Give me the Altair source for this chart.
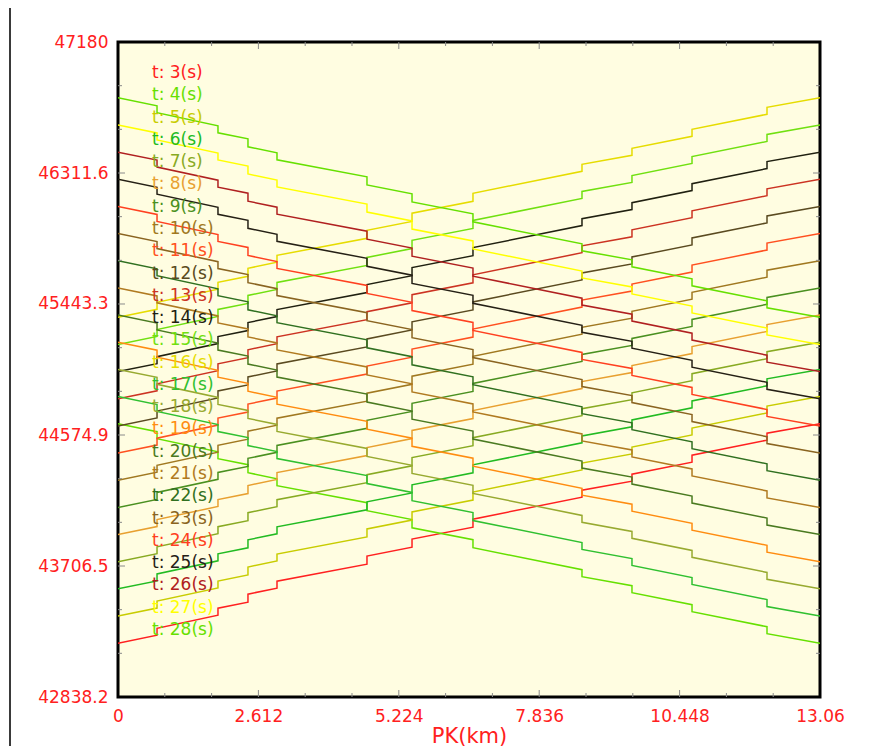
import altair as alt
import pandas as pd

# ---- data ----
series_names = ["t: 3(s)", "t: 4(s)", "t: 5(s)", "t: 6(s)", "t: 7(s)", "t: 8(s)", "t: 9(s)",
                "t: 10(s)", "t: 11(s)", "t: 12(s)", "t: 13(s)", "t: 14(s)", "t: 15(s)",
                "t: 16(s)", "t: 17(s)", "t: 18(s)", "t: 19(s)", "t: 20(s)", "t: 21(s)",
                "t: 22(s)", "t: 23(s)", "t: 24(s)", "t: 25(s)", "t: 26(s)", "t: 27(s)", "t: 28(s)"]
series_colors = ["#FF2020", "#66E000", "#C8CC00", "#22BB22", "#88AA22", "#E8A030", "#4A9020",
                 "#A07820", "#FF5020", "#5A4A20", "#CC3322", "#202010", "#70E010",
                 "#E6DC00", "#30C030", "#98AA30", "#FF8C10", "#4A7A20", "#B07A20",
                 "#307020", "#8A6420", "#FF4020", "#252015", "#B02020", "#FFFF00", "#66E000"]
# direction of each profile along the pipe: +1 rising, -1 falling
series_dir = [1, -1, 1, 1, 1, 1, 1, 1, 1, 1, 1, 1, 1,
              1, -1, -1, -1, -1, -1, -1, -1, -1, -1, -1, -1, -1]
# value at PK = 0
series_start = [43195, 44650, 43375, 43555, 43735, 43915, 44095, 44275, 44455, 44635, 44815, 44995, 45175,
                45355, 44830, 45010, 45190, 45370, 45550, 45730, 45910, 46090, 46270, 46450, 46630, 46810]

# stepped profile shape (change from the PK=0 value)
profile_pk = [0, 0.726, 0.726, 1.860, 1.860, 2.418, 2.418, 2.958, 2.958, 4.632, 4.632, 5.470,
              5.470, 6.604, 6.604, 8.632, 8.632, 9.562, 9.562, 10.679, 10.679, 12.074, 12.074, 13.06]
profile_change = [0, 53, 99, 186, 232, 272, 325, 365, 411, 524, 577, 636,
                  690, 769, 822, 968, 1014, 1074, 1120, 1200, 1246, 1346, 1392, 1455]

x_ticks = [0, 2.612, 5.224, 7.836, 10.448, 13.06]
y_ticks = [42838.2, 43706.5, 44574.9, 45443.3, 46311.6, 47180]
x_minor = [0.8707, 1.7413, 3.4827, 4.3533, 6.0947, 6.9653, 8.7067, 9.5773, 11.3187, 12.1893]
y_minor = [43127.7, 43417.1, 43996.0, 44285.4, 44864.4, 45153.8, 45732.7, 46022.2, 46601.1, 46890.5]
x_major_inner = [2.612, 5.224, 7.836, 10.448]
y_major_inner = [43706.5, 44574.9, 45443.3, 46311.6]

X_DOMAIN = [0, 13.06]
Y_DOMAIN = [42838.2, 47180]
W, H = 702, 655
RED = "#FF2020"
FONT = "DejaVu Sans"

rows = []
for name, d, s in zip(series_names, series_dir, series_start):
    for i, (pk, ch) in enumerate(zip(profile_pk, profile_change)):
        rows.append({"series": name, "pk": pk, "v": s + d * ch, "idx": i})
df = pd.DataFrame(rows)

color_scale = alt.Scale(domain=series_names, range=series_colors)
xs = alt.Scale(domain=X_DOMAIN, nice=False, zero=False)
ys = alt.Scale(domain=Y_DOMAIN, nice=False, zero=False)

lines = alt.Chart(df).mark_line(strokeWidth=1.5, clip=True).encode(
    x=alt.X("pk:Q", scale=xs, axis=alt.Axis(
        values=x_ticks, format=".10~g", title="PK(km)", ticks=False, domain=False, grid=False,
        labelColor=RED, labelFont=FONT, labelFontSize=17, labelPadding=11, labelFlush=False,
        labelOverlap=False, titleColor=RED, titleFont=FONT, titleFontSize=21,
        titleFontWeight="normal", titlePadding=1)),
    y=alt.Y("v:Q", scale=ys, axis=alt.Axis(
        values=y_ticks, format=".10~g", title=None, ticks=False, domain=False, grid=False,
        labelColor=RED, labelFont=FONT, labelFontSize=17, labelPadding=10, labelFlush=False,
        labelOverlap=False)),
    color=alt.Color("series:N", scale=color_scale, legend=None),
    detail="series:N",
    order="idx:Q",
)

leg_df = pd.DataFrame({"series": series_names, "pos": list(range(len(series_names)))})
legend = alt.Chart(leg_df).mark_text(align="left", baseline="middle", font=FONT, fontSize=17).encode(
    x=alt.value(34),
    y=alt.Y("pos:O", scale=alt.Scale(type="point", range=[31, 588], padding=0), axis=None),
    text="series:N",
    color=alt.Color("series:N", scale=color_scale, legend=None),
)

TICK = "#8A8A8A"
def xtick_layer(vals, length):
    d = pd.DataFrame({"pk": vals})
    top = alt.Chart(d).mark_rule(color=TICK, strokeWidth=1).encode(
        x=alt.X("pk:Q", scale=xs), y=alt.value(0), y2=alt.value(length))
    bot = alt.Chart(d).mark_rule(color=TICK, strokeWidth=1).encode(
        x=alt.X("pk:Q", scale=xs), y=alt.value(H), y2=alt.value(H - length))
    return [top, bot]

def ytick_layer(vals, length):
    d = pd.DataFrame({"v": vals})
    left = alt.Chart(d).mark_rule(color=TICK, strokeWidth=1).encode(
        y=alt.Y("v:Q", scale=ys, axis=None), x=alt.value(0), x2=alt.value(length))
    right = alt.Chart(d).mark_rule(color=TICK, strokeWidth=1).encode(
        y=alt.Y("v:Q", scale=ys, axis=None), x=alt.value(W), x2=alt.value(W - length))
    return [left, right]

tick_layers = (xtick_layer(x_major_inner, 7) + xtick_layer(x_minor, 4)
               + ytick_layer(y_major_inner, 7) + ytick_layer(y_minor, 4))

frame = alt.Chart(pd.DataFrame({"a": [0]})).mark_rule(color="#3A3A3A", strokeWidth=2).encode(
    x=alt.value(-108), y=alt.value(-42), y2=alt.value(706))

chart = alt.layer(lines, *tick_layers, legend, frame).resolve_scale(y="independent").properties(
    width=W, height=H,
    autosize=alt.AutoSizeParams(type="none"),
    padding={"left": 110, "top": 34, "right": 40, "bottom": 60},
    background="white",
).configure_view(stroke="black", strokeWidth=3, fill="#FFFDE1")

chart.save("out.html", embed_options={"renderer": "svg", "actions": False})
